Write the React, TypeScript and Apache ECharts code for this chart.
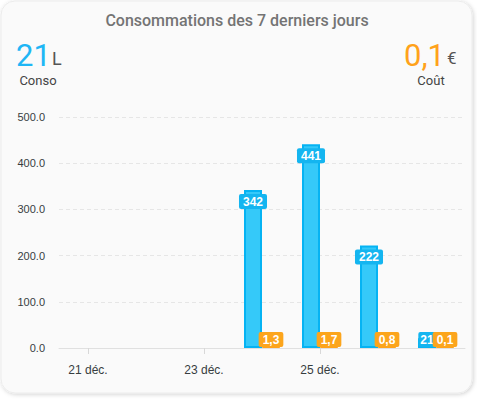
import React, { useEffect, useRef } from "react";
import * as echarts from "echarts";

const days = ["21 déc.", "22 déc.", "23 déc.", "24 déc.", "25 déc.", "26 déc.", "27 déc."];
const consoValues: (number | null)[] = [null, null, null, 342, 441, 222, 21];
const coutValues: (number | null)[] = [null, null, null, 1.3, 1.7, 0.8, 0.1];
const yTicks = [0, 100, 200, 300, 400, 500];
const totalConso = "21";
const totalCout = "0,1";

const BLUE = "#1fb6f5";
const ORANGE = "#ffa21a";

export default function App() {
  const ref = useRef<HTMLDivElement>(null);
  useEffect(() => {
    if (!ref.current) return;
    const chart = echarts.init(ref.current, null, { renderer: "svg" });
    const consoMax = Math.max(...(consoValues.filter((v) => v !== null) as number[]));
    const labelBase = {
      show: true,
      color: "#fff",
      fontWeight: "bold" as const,
      fontSize: 12,
      fontFamily: "Liberation Sans, Arial, sans-serif",
      padding: [2, 4, 1, 4],
      borderRadius: 2,
    };
    chart.setOption({
      animation: false,
      backgroundColor: "#ffffff",
      graphic: [
        {
          type: "rect",
          shape: { x: 1, y: 1, width: 471, height: 392, r: 14 },
          style: {
            fill: "#fafafa",
            stroke: "#ececec",
            lineWidth: 1,
            shadowBlur: 4,
            shadowOffsetX: 1,
            shadowOffsetY: 1,
            shadowColor: "rgba(0,0,0,0.18)",
          },
          z: -10,
          silent: true,
        },
        {
          type: "text",
          x: 237,
          y: 20,
          style: {
            text: "Consommations des 7 derniers jours",
            fill: "#747474",
            font: "500 16px Roboto",
            align: "center",
            verticalAlign: "middle",
          },
        },
        {
          type: "text",
          x: 16,
          y: 55,
          style: { text: totalConso, fill: BLUE, font: "400 31px Roboto", align: "left", verticalAlign: "middle" },
        },
        {
          type: "text",
          x: 52,
          y: 58,
          style: { text: "L", fill: "#555", font: "400 18px Roboto", align: "left", verticalAlign: "middle" },
        },
        {
          type: "text",
          x: 38,
          y: 80,
          style: { text: "Conso", fill: "#444", font: "400 13px Roboto", align: "center", verticalAlign: "middle" },
        },
        {
          type: "text",
          x: 445,
          y: 55,
          style: { text: totalCout, fill: ORANGE, font: "400 31px Roboto", align: "right", verticalAlign: "middle" },
        },
        {
          type: "text",
          x: 447,
          y: 58,
          style: { text: "€", fill: "#555", font: "400 17px Roboto", align: "left", verticalAlign: "middle" },
        },
        {
          type: "text",
          x: 431,
          y: 80,
          style: { text: "Coût", fill: "#444", font: "400 13px Roboto", align: "center", verticalAlign: "middle" },
        },
      ],
      grid: { left: 59, right: 12, top: 117, bottom: 51 },
      xAxis: {
        type: "category",
        data: days,
        axisLine: { lineStyle: { color: "#e0e0e0", width: 1 } },
        axisTick: {
          show: true,
          alignWithLabel: true,
          interval: (i: number) => i % 2 === 0 && i < 6,
          length: 6,
          lineStyle: { color: "#d8d8d8" },
        },
        axisLabel: {
          interval: (i: number) => i % 2 === 0 && i < 6,
          color: "#373d3f",
          fontSize: 12,
          fontFamily: "Liberation Sans, Arial, sans-serif",
          margin: 16,
        },
      },
      yAxis: {
        type: "value",
        min: yTicks[0],
        max: yTicks[yTicks.length - 1],
        interval: 100,
        axisLine: { show: false },
        axisTick: { show: false },
        axisLabel: {
          formatter: (v: number) => v.toFixed(1),
          color: "#373d3f",
          fontSize: 11,
          fontFamily: "Liberation Sans, Arial, sans-serif",
          margin: 14,
        },
        splitLine: { lineStyle: { color: "#e6e6e6", type: [4, 3] } },
      },
      series: [
        {
          name: "Conso",
          type: "bar",
          barWidth: 18,
          barGap: "0%",
          data: consoValues.map((v) =>
            v === null
              ? null
              : {
                  value: v,
                  label:
                    v < consoMax * 0.1
                      ? { position: "insideBottom", distance: 1, padding: [2, 2, 1, 2] }
                      : { position: "insideTop", distance: 4 },
                }
          ),
          itemStyle: { color: "#35c9f9", borderColor: "#05b3f3", borderWidth: 2 },
          label: {
            ...labelBase,
            backgroundColor: "#14b5f0",
            formatter: (p: any) => String(p.value),
          },
        },
        {
          name: "Coût",
          type: "bar",
          barWidth: 18,
          barMinHeight: 2,
          data: coutValues,
          itemStyle: { color: ORANGE, borderColor: "#ffa21a", borderWidth: 1 },
          label: {
            ...labelBase,
            position: "insideBottom",
            distance: 1,
            backgroundColor: "#fca51c",
            formatter: (p: any) => Number(p.value).toFixed(1).replace(".", ","),
          },
        },
      ],
    });
    return () => chart.dispose();
  }, []);
  return (
    <div
      ref={ref}
      style={{ position: "fixed", left: 0, top: 0, width: 477, height: 399 }}
    />
  );
}
